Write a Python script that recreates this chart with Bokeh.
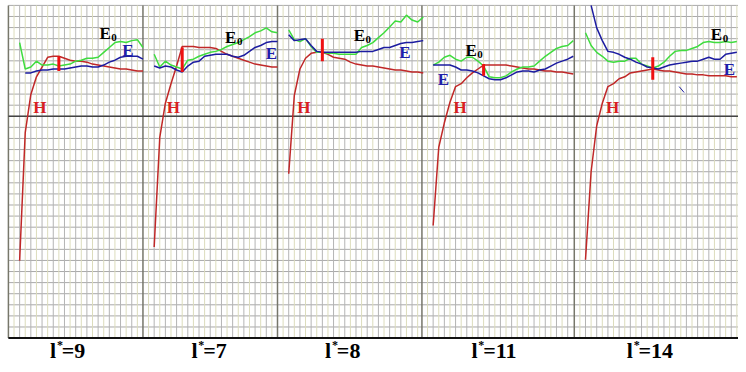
from bokeh.plotting import figure
from bokeh.models import Range1d
from bokeh.core.properties import value
from bokeh.embed import file_html
from bokeh.resources import INLINE

# ---------------- data (vertical values: depth index, larger = lower) -------------
panel_names = ["9", "7", "8", "11", "14"]

# panel 1  (l*=9)
e0_p1 = [43, 70, 68, 62, 66, 66, 65, 67, 66, 65, 62, 61, 59, 59, 58, 53, 48, 43, 42, 43, 41, 40, 48]
e_p1 = [74, 74, 72, 71, 71, 70, 70, 70, 69, 68, 67, 67, 68, 68, 66, 63, 61, 58, 57, 57, 57, 60]
h_p1 = [266, 135, 96, 78, 68, 58, 57, 57, 59, 61, 62, 62, 63, 65, 66, 67, 68, 69, 70, 70, 71, 72, 72]
# panel 2  (l*=7)
e0_p2 = [55, 68, 62, 66, 68, 70, 61, 60, 57, 55, 53, 52, 50, 47, 45, 43, 40, 37, 33, 31, 28, 32, 33]
e_p2 = [67, 69, 67, 68, 71, 73, 67, 63, 62, 57, 56, 55, 55, 55, 57, 58, 56, 52, 48, 46, 43, 42, 42]
h_p2 = [252, 140, 105, 85, 67, 47, 47, 47, 48, 48, 48, 49, 52, 55, 57, 59, 61, 63, 65, 66, 67, 68, 68]
# panel 3  (l*=8)
e0_p3 = [30, 40, 42, 39, 47, 53, 53, 54, 54, 55, 55, 55, 55, 48, 46, 43, 38, 33, 27, 21, 22, 15, 20, 22, 17]
e_p3 = [35, 41, 40, 39, 46, 52, 53, 53, 53, 53, 53, 53, 53, 52, 52, 52, 50, 48, 48, 46, 44, 43, 43, 42, 41]
h_p3 = [177, 97, 70, 59, 54, 53, 53, 55, 58, 59, 60, 63, 65, 66, 67, 67, 68, 69, 70, 71, 71, 72, 73, 73, 74]
# panel 4  (l*=11)
e0_p4 = [66, 63, 58, 56, 60, 62, 58, 58, 62, 67, 78, 79, 79, 77, 73, 70, 68, 68, 67, 62, 57, 53, 49, 47, 46, 41]
e_p4 = [66, 66, 66, 66, 68, 71, 71, 72, 74, 77, 80, 81, 81, 79, 76, 73, 72, 72, 73, 71, 70, 67, 64, 62, 60, 57]
h_p4 = [230, 150, 125, 104, 88, 85, 79, 74, 70, 66, 66, 66, 66, 66, 67, 68, 69, 70, 70, 71, 72, 72, 73, 73, 74, 75]
# panel 5  (l*=14)
e0_p5 = [33, 46, 53, 57, 62, 63, 62, 62, 59, 59, 65, 67, 69, 67, 63, 57, 52, 51, 51, 49, 47, 43, 42, 43, 43, 42, 43, 42]
e_p5 = [5, 28, 41, 52, 53, 55, 58, 60, 63, 65, 68, 69, 70, 68, 66, 65, 64, 63, 62, 62, 60, 58, 60, 60, 55, 54, 53]
h_p5 = [265, 175, 128, 105, 88, 85, 80, 78, 74, 73, 72, 71, 70, 71, 72, 72, 73, 74, 75, 75, 76, 76, 77, 77, 77, 77, 78, 78]

e0_all = [e0_p1, e0_p2, e0_p3, e0_p4, e0_p5]
e_all = [e_p1, e_p2, e_p3, e_p4, e_p5]
h_all = [h_p1, h_p2, h_p3, h_p4, h_p5]
# first sample column of each series in each panel
e0_start = [2, 2, 2, 2, 2]
e_start = [3, 2, 2, 2, 3]
h_start = [2, 2, 2, 2, 2]
# red bar (column, top, bottom)
bar_col = [9, 7, 8, 11, 14]
bar_top = [57, 48, 39, 65, 58]
bar_bot = [72, 73, 62, 77, 81]

# ---------------- layout ------------------------------------------------------------
STEP = 5.667
ROW = 11.333
TOP, BOT = 5, 345
panel_left = [8, 144, 280, 426, 580]
panel_right = [144, 280, 426, 580, 746]

p = figure(width=738, height=364, output_backend="svg", toolbar_location=None,
           x_range=Range1d(0, 746), y_range=Range1d(372, 0),
           min_border=0, background_fill_color="white", border_fill_color="white")
p.axis.visible = False
p.xgrid.visible = False
p.ygrid.visible = False
p.outline_line_color = None

# grid
hx, hy = [], []
for k in range(31):
    y = TOP + k * ROW
    hx.append([8, 746]); hy.append([y, y])
p.multi_line(hx, hy, line_color="#a9a9a9", line_width=1)

vx_a, vy_a, vx_b, vy_b = [], [], [], []
for L, R in zip(panel_left, panel_right):
    j = 1
    while L + j * STEP < R - 1:
        x = L + j * STEP
        if j % 2:
            vx_a.append([x, x]); vy_a.append([TOP, BOT])
        else:
            vx_b.append([x, x]); vy_b.append([TOP, BOT])
        j += 1
p.multi_line(vx_b, vy_b, line_color="#b4b4b4", line_width=1)
p.multi_line(vx_a, vy_a, line_color="#dcdcbc", line_width=1)

# frame lines
p.multi_line([[x, x] for x in panel_left], [[TOP, BOT]] * 5, line_color="#77776a", line_width=1.5)
p.segment(8, TOP + 10 * ROW, 746, TOP + 10 * ROW, line_color="#444444", line_width=1.5)
p.segment(8, BOT, 746, BOT, line_color="#111111", line_width=2)

GREEN = "#3fdc3f"
BLUE = "#1c1ca0"
RED = "#c02828"

for i in range(5):
    L = panel_left[i]
    for ser, st, col in ((h_all[i], h_start[i], RED), (e0_all[i], e0_start[i], GREEN), (e_all[i], e_start[i], BLUE)):
        xs = [L + STEP * (st + k) for k in range(len(ser))]
        p.line(xs, ser, line_color=col, line_width=1.5)
    bx = L + STEP * bar_col[i]
    p.segment(bx, bar_top[i], bx, bar_bot[i], line_color="#ee1111", line_width=3)

# small tick in panel 5
p.segment(686, 88, 691, 94, line_color=BLUE, line_width=1)

FONT = value("Liberation Serif")
# E0 labels
e0_lx = [100, 227, 357, 470, 718]
e0_ly = [34, 38, 36, 51, 35]
p.text(e0_lx, e0_ly, text=["E"] * 5, text_font=FONT, text_font_style="bold",
       text_font_size="17px", text_color="black", text_baseline="alphabetic")
p.text([x + 12 for x in e0_lx], [y + 4 for y in e0_ly], text=["0"] * 5, text_font=FONT,
       text_font_style="bold", text_font_size="11px", text_color="black", text_baseline="alphabetic")
# E labels
p.text([123, 268, 403, 442, 731], [51, 54, 53, 81, 71], text=["E"] * 5, text_font=FONT,
       text_font_style="bold", text_font_size="17px", text_color="#2020aa", text_baseline="alphabetic")
# H labels
p.text([33, 168, 300, 458, 612], [109] * 5, text=["H"] * 5, text_font=FONT,
       text_font_style="bold", text_font_size="17px", text_color="#d82020", text_baseline="alphabetic")

# bottom labels
lab_x = [50, 193, 328, 476, 633]
p.text(lab_x, [358] * 5, text=["l"] * 5, text_font=FONT, text_font_style="bold",
       text_font_size="22px", text_color="black", text_baseline="alphabetic")
p.text([x + 7 for x in lab_x], [352] * 5, text=["*"] * 5, text_font=FONT, text_font_style="bold",
       text_font_size="12px", text_color="black", text_baseline="alphabetic")
p.text([x + 12 for x in lab_x], [358] * 5, text=["=" + n for n in panel_names], text_font=FONT,
       text_font_style="bold", text_font_size="22px", text_color="black", text_baseline="alphabetic")

open("out.html", "w").write(file_html(p, INLINE))
